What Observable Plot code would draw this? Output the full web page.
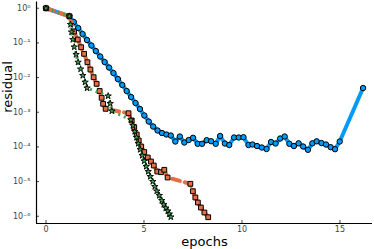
<!DOCTYPE html>
<html><head><meta charset="utf-8">
<script src="https://cdn.jsdelivr.net/npm/d3@7"></script>
<script src="https://cdn.jsdelivr.net/npm/@observablehq/plot@0.6"></script>
<style>html,body{margin:0;padding:0;background:#fff}svg{display:block}</style>
</head><body><div id="chart"></div>
<script>
// Series 1: circles (solid line)
const blueEpoch = [0, 1.19, 1.417, 1.642, 1.867, 2.092, 2.317, 2.542, 2.767, 2.992, 3.217, 3.442, 3.668, 3.893, 4.118, 4.343, 4.568, 4.793, 5.018, 5.243, 5.468, 5.693, 5.918, 6.143, 6.368, 6.598, 6.829, 7.059, 7.279, 7.504, 7.740, 7.964, 8.200, 8.425, 8.660, 8.885, 9.130, 9.350, 9.596, 9.836, 10.077, 10.332, 10.537, 10.767, 11.013, 11.253, 11.483, 11.714, 11.949, 12.179, 12.419, 12.650, 12.890, 13.120, 13.366, 13.591, 13.811, 14.056, 14.287, 14.527, 14.747, 14.987, 16.179];
const blueLog10 = [0, -0.231, -0.398, -0.571, -0.744, -0.917, -1.076, -1.234, -1.393, -1.552, -1.710, -1.869, -2.042, -2.215, -2.388, -2.561, -2.734, -2.907, -3.095, -3.268, -3.412, -3.527, -3.600, -3.643, -3.672, -3.845, -3.701, -3.874, -3.802, -3.738, -3.911, -3.911, -3.807, -3.836, -3.911, -3.686, -3.903, -3.946, -3.729, -3.729, -3.721, -3.946, -3.931, -3.975, -4.018, -4.061, -3.859, -3.903, -3.758, -3.701, -3.911, -3.975, -3.897, -3.989, -4.084, -3.897, -3.839, -3.888, -3.931, -4.009, -4.067, -3.845, -2.302];
// Series 2: squares (dashed line)
const redEpoch = [0, 1.19, 1.432, 1.621, 1.790, 1.944, 2.113, 2.266, 2.430, 2.583, 2.737, 2.839, 2.916, 3.043, 4.210, 4.373, 4.501, 4.629, 4.731, 4.859, 5.013, 5.192, 5.355, 5.499, 5.678, 5.867, 6.036, 6.205, 7.366, 7.494, 7.621, 7.749, 7.903, 8.082, 8.276];
const redLog10 = [0, -0.231, -0.672, -0.903, -1.125, -1.315, -1.558, -1.768, -1.990, -2.181, -2.388, -2.584, -2.757, -2.902, -3.029, -3.239, -3.432, -3.643, -3.816, -3.989, -4.148, -4.306, -4.422, -4.537, -4.710, -4.730, -4.661, -4.883, -5.065, -5.278, -5.460, -5.604, -5.749, -5.893, -6.028];
// Series 3: stars (dotted line)
const greenEpoch = [0, 1.19, 1.253, 1.304, 1.371, 1.442, 1.535, 1.637, 1.765, 1.877, 1.995, 2.097, 3.171, 3.274, 3.361, 4.332, 4.435, 4.527, 4.619, 4.706, 4.808, 4.910, 5.013, 5.115, 5.217, 5.320, 5.448, 5.550, 5.652, 5.780, 5.908, 6.010, 6.113, 6.215, 6.292, 6.368];
const greenLog10 = [0, -0.231, -0.470, -0.686, -0.903, -1.119, -1.335, -1.558, -1.754, -1.941, -2.134, -2.302, -2.532, -2.749, -2.965, -3.219, -3.383, -3.556, -3.729, -3.903, -4.076, -4.249, -4.407, -4.566, -4.710, -4.855, -4.999, -5.143, -5.273, -5.402, -5.547, -5.662, -5.763, -5.849, -5.936, -6.022];

const xTicks = [0, 5, 10, 15];
const yTickExponents = [0, -1, -2, -3, -4, -5, -6];
const xLabel = "epochs";
const yLabel = "residual";

const xDomain = [-0.485, 16.66];
const yDomain = [10 ** -6.21, 10 ** 0.18];

const rows = (ep, lg) => ep.map((e, i) => ({epoch: e, residual: 10 ** lg[i]}));
const blue = rows(blueEpoch, blueLog10);
const red = rows(redEpoch, redLog10);
const green = rows(greenEpoch, greenLog10);

const SUP = {"-": "\u207B", "0": "\u2070", "1": "\u00B9", "2": "\u00B2", "3": "\u00B3", "4": "\u2074", "5": "\u2075", "6": "\u2076", "7": "\u2077", "8": "\u2078", "9": "\u2079"};
const fmtPow = d => "10" + String(Math.round(Math.log10(d))).split("").map(c => SUP[c]).join("");
const yTicks = yTickExponents.map(e => 10 ** e);

const chart = Plot.plot({
  width: 374, height: 249,
  marginLeft: 36, marginRight: 2, marginTop: 1.5, marginBottom: 26,
  style: {fontFamily: "DejaVu Sans, sans-serif", background: "#fff", overflow: "visible"},
  x: {domain: xDomain},
  y: {type: "log", domain: yDomain},
  marks: [
    Plot.axisY(yTicks, {tickFormat: fmtPow, tickSize: -3, tickPadding: 9, fontSize: 8, color: "#444", label: null}),
    Plot.axisX(xTicks, {tickFormat: d => String(d), tickSize: -3, tickPadding: 5.5, fontSize: 8, color: "#444", label: null}),
    Plot.ruleX([xDomain[0]], {stroke: "black", strokeWidth: 1.2}),
    Plot.ruleY([yDomain[0]], {stroke: "black", strokeWidth: 1.2}),
    Plot.line(blue, {x: "epoch", y: "residual", stroke: "#009AFA", strokeWidth: 4}),
    Plot.dot(blue, {x: "epoch", y: "residual", r: 2.7, fill: "#009AFA", stroke: "black", strokeWidth: 1}),
    Plot.line(red, {x: "epoch", y: "residual", stroke: "#E26F46", strokeWidth: 4, strokeDasharray: "8,5"}),
    Plot.dot(red, {x: "epoch", y: "residual", symbol: "square", r: 2.7, fill: "#E26F46", stroke: "black", strokeWidth: 1}),
    Plot.line(green, {x: "epoch", y: "residual", stroke: "#3EA44E", strokeWidth: 3, strokeDasharray: "2,4", strokeLinecap: "butt"}),
    Plot.dot(green, {x: "epoch", y: "residual", symbol: "star", r: 2, fill: "#3EA44E", stroke: "black", strokeWidth: 0.9}),
    Plot.text([xLabel], {frameAnchor: "bottom", dy: 18, fontSize: 13, fill: "black", lineAnchor: "middle"}),
    Plot.text([yLabel], {frameAnchor: "left", dx: -29, rotate: -90, fontSize: 13, fill: "black", lineAnchor: "middle"})
  ]
});
document.getElementById("chart").appendChild(chart);
</script>
</body></html>
